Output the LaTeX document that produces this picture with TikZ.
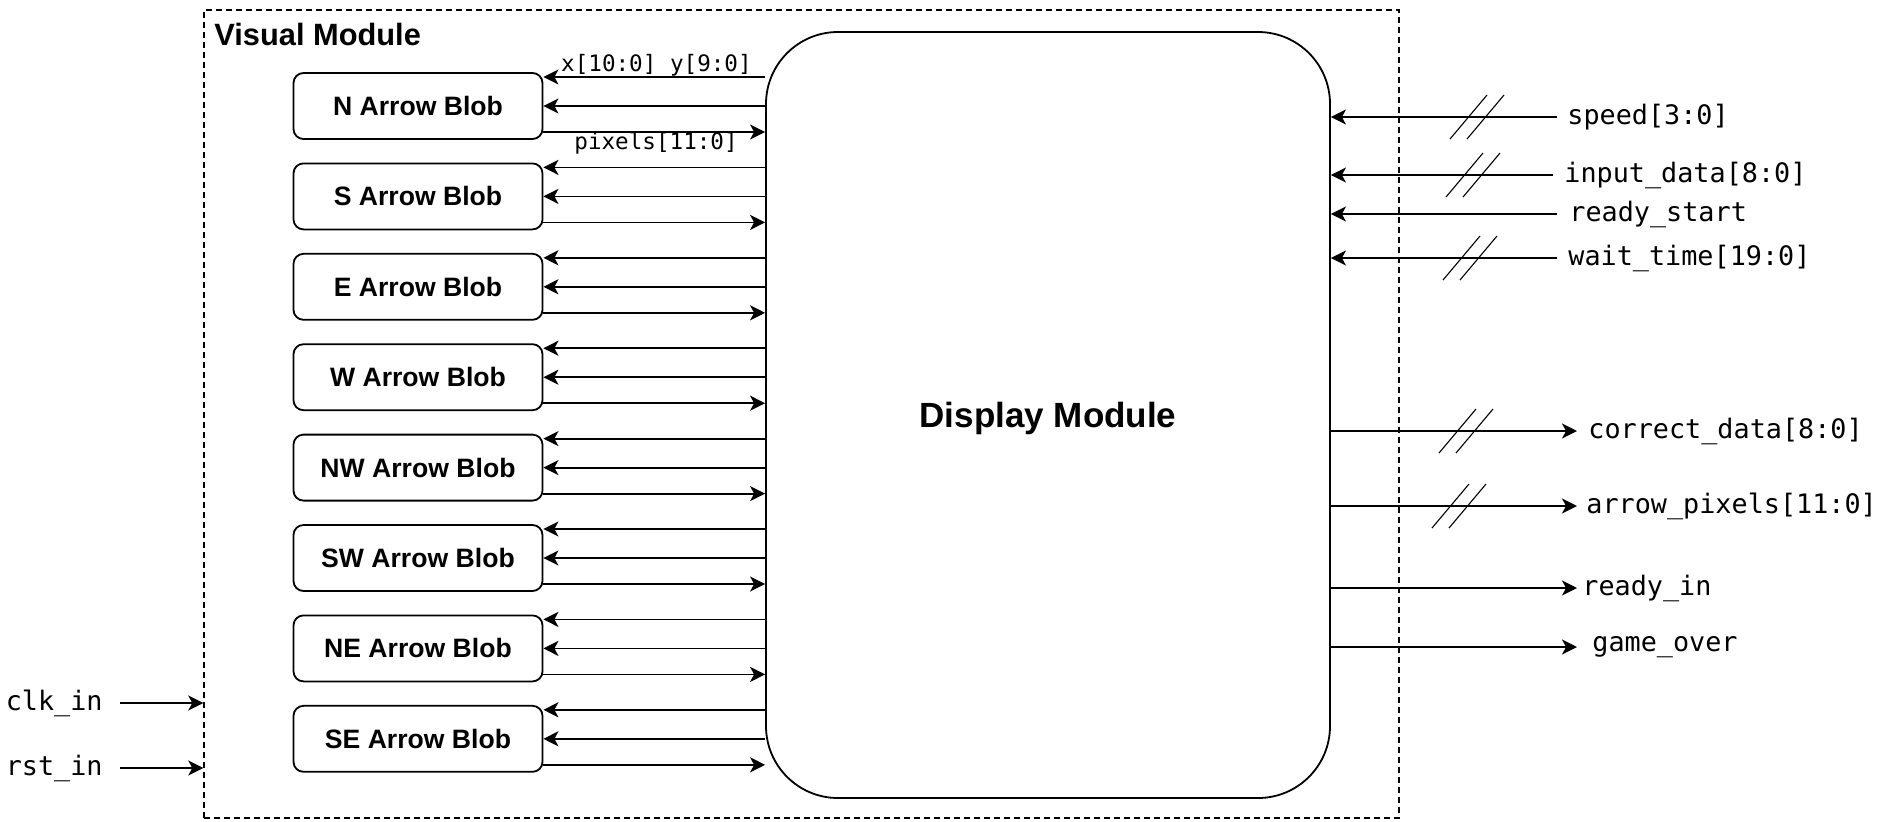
\documentclass[tikz,border=0pt]{standalone}
\usepackage{fontspec}
\setmainfont{Liberation Sans}
\setmonofont{DejaVu Sans Mono}
\usetikzlibrary{positioning,arrows.meta}

\tikzset{
  blob/.style={draw, line width=0.9pt, rounded corners=5pt, minimum width=124.5pt, minimum height=33pt, font=\bfseries\fontsize{13.3}{15}\selectfont},
  sig/.style={line width=0.9pt, -{Stealth[length=7.5pt,width=7.5pt,inset=2pt]}},
  port/.style={font=\ttfamily\fontsize{13.4}{15}\selectfont, inner sep=3pt},
  small/.style={font=\ttfamily\fontsize{11.3}{13}\selectfont, inner sep=0pt},
  bus/.style={line width=0.55pt},
}

\begin{document}
\begin{tikzpicture}[x=0.5pt, y=-0.5pt, node distance=11.3pt]
  \useasboundingbox (0,0) rectangle (1888,821);

  % visual module frame
  \node[draw, dash pattern=on 3pt off 2pt, line width=0.7pt, minimum width=597.5pt, minimum height=404pt] (vis) at (801.5,414) {};
  \node[anchor=west, inner sep=0pt, font=\bfseries\fontsize{15.4}{18}\selectfont] (vistitle) at (214,34) {Visual Module};

  % display module
  \node[draw, line width=0.9pt, rounded corners=36pt, minimum width=282pt, minimum height=383pt, font=\bfseries\fontsize{17.5}{20}\selectfont, text depth=-8pt] (disp) at (1048,415) {Display Module};

  % arrow blobs
  \node[blob] (n) at (418,106) {N Arrow Blob};
  \node[blob, below=of n] (s) {S Arrow Blob};
  \node[blob, below=of s] (e) {E Arrow Blob};
  \node[blob, below=of e] (w) {W Arrow Blob};
  \node[blob, below=of w] (nw) {NW Arrow Blob};
  \node[blob, below=of nw] (sw) {SW Arrow Blob};
  \node[blob, below=of sw] (ne) {NE Arrow Blob};
  \node[blob, below=of ne] (se) {SE Arrow Blob};

  % blob <-> display
  \foreach \b in {n,s,e,w,nw,sw,ne,se} {
    \coordinate (\b-top) at ([yshift=14.5pt]\b.east);
    \coordinate (\b-bot) at ([yshift=-13pt]\b.east);
    \coordinate (\b-tin) at (\b-top -| disp.west);
    \coordinate (\b-bin) at (\b-bot -| disp.west);
    \draw[sig] (\b-tin) -- (\b-top);
    \draw[sig] (\b.east -| disp.west) -- (\b.east);
    \draw[sig] (\b-bot) -- (\b-bin);
  }
  \node[small, anchor=base east] (xy) at ([xshift=-6.5pt,yshift=3pt]n-tin) {x[10:0] y[9:0]};
  \node[small, anchor=base east] (pix) at ([xshift=-13.5pt,yshift=-8.5pt]n-bin) {pixels[11:0]};

  % inputs
  \node[port, anchor=west, inner xsep=5pt] (speed) at (1557,117) {speed[3:0]};
  \node[port, anchor=west, inner xsep=5.5pt] (indata) at (1553,175) {input\_data[8:0]};
  \node[port, anchor=west, inner xsep=6pt] (rdystart) at (1557,214) {ready\_start};
  \node[port, anchor=west, inner xsep=5.5pt] (waittime) at (1557,258) {wait\_time[19:0]};
  \foreach \p in {speed,indata,rdystart,waittime}
    \draw[sig] (\p.west) -- (\p -| disp.east);

  % outputs
  \node[port, anchor=west, inner xsep=5.5pt] (correct) at (1577,431) {correct\_data[8:0]};
  \node[port, anchor=west, inner xsep=4.5pt] (apix) at (1577,506) {arrow\_pixels[11:0]};
  \node[port, anchor=west, inner xsep=2.5pt] (rdyin) at (1577,588) {ready\_in};
  \node[port, anchor=west, inner xsep=7.5pt] (over) at (1577,647) {game\_over};
  \foreach \p in {correct,apix,rdyin,over}
    \draw[sig] (\p -| disp.east) -- (\p.west);

  % bus marks
  \foreach \sx/\sy in {1477/117, 1473/175, 1470/258, 1466/431, 1459/506} {
    \draw[bus] ({\sx-27},{\sy+22}) -- ({\sx+10},{\sy-22});
    \draw[bus] ({\sx-10},{\sy+22}) -- ({\sx+27},{\sy-22});
  }

  % clock and reset
  \node[port, anchor=east, inner xsep=8.5pt] (clk) at (120,703) {clk\_in};
  \node[port, anchor=east, inner xsep=8.5pt] (rst) at (120,768) {rst\_in};
  \draw[sig] (clk.east) -- (clk -| vis.west);
  \draw[sig] (rst.east) -- (rst -| vis.west);
\end{tikzpicture}
\end{document}
